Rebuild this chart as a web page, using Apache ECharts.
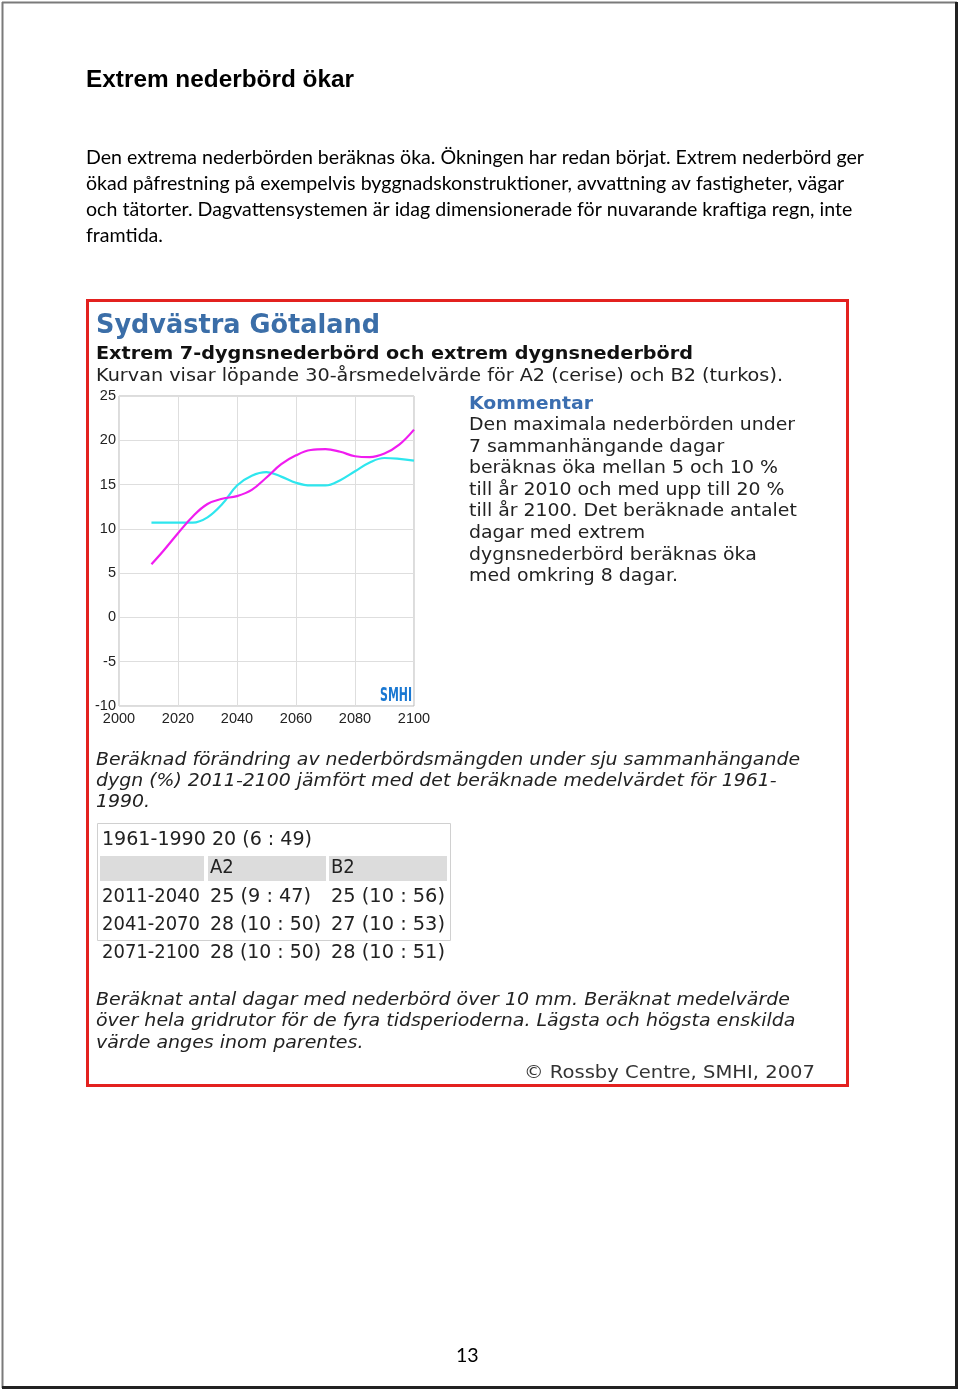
<!DOCTYPE html>
<html><head><meta charset="utf-8">
<script src="https://cdn.jsdelivr.net/npm/echarts@6/dist/echarts.min.js"></script>
<style>html,body{margin:0;padding:0;background:#fff}#c{width:960px;height:1390px}</style>
</head><body><div id="c"></div>
<script>
// ---- data ----
const years = [2011,2015,2020,2025,2030,2035,2040,2045,2050,2055,2060,2065,2070,2075,2080,2085,2090,2095,2100];
const a2Values = [6.0,7.5,9.5,11.4,12.8,13.4,13.7,14.4,15.8,17.3,18.3,18.9,19.0,18.7,18.2,18.1,18.5,19.5,21.2];
const b2Values = [10.7,10.7,10.7,10.7,11.3,12.8,14.9,16.0,16.4,15.9,15.2,14.9,14.9,15.5,16.5,17.5,18.0,17.9,17.7];
const xTicks = [2000,2020,2040,2060,2080,2100];
const yTicks = [-10,-5,0,5,10,15,20,25];

const pageTitle = 'Extrem nederbörd ökar';
const bodyLines = [
  'Den extrema nederbörden beräknas öka. Ökningen har redan börjat. Extrem nederbörd ger',
  'ökad påfrestning på exempelvis byggnadskonstruktioner, avvattning av fastigheter, vägar',
  'och tätorter. Dagvattensystemen är idag dimensionerade för nuvarande kraftiga regn, inte',
  'framtida.'
];
const chartTitle = 'Sydvästra Götaland';
const chartSubtitle = 'Extrem 7-dygnsnederbörd och extrem dygnsnederbörd';
const chartNote = 'Kurvan visar löpande 30-årsmedelvärde för A2 (cerise) och B2 (turkos).';
const commentHead = 'Kommentar';
const commentLines = [
  'Den maximala nederbörden under',
  '7 sammanhängande dagar',
  'beräknas öka mellan 5 och 10 %',
  'till år 2010 och med upp till 20 %',
  'till år 2100. Det beräknade antalet',
  'dagar med extrem',
  'dygnsnederbörd beräknas öka',
  'med omkring 8 dagar.'
];
const caption1 = [
  'Beräknad förändring av nederbördsmängden under sju sammanhängande',
  'dygn (%) 2011-2100 jämfört med det beräknade medelvärdet för 1961-',
  '1990.'
];
const baselineRow = '1961-1990 20 (6 : 49)';
const tableHeader = ['', 'A2', 'B2'];
const tablePeriods = ['2011-2040', '2041-2070', '2071-2100'];
const tableA2 = ['25 (9 : 47)', '28 (10 : 50)', '28 (10 : 50)'];
const tableB2 = ['25 (10 : 56)', '27 (10 : 53)', '28 (10 : 51)'];
const caption2 = [
  'Beräknat antal dagar med nederbörd över 10 mm. Beräknat medelvärde',
  'över hela gridrutor för de fyra tidsperioderna. Lägsta och högsta enskilda',
  'värde anges inom parentes.'
];
const copyright = '© Rossby Centre, SMHI, 2007';
const pageNumber = '13';

// ---- helpers ----
const mctx = document.createElement('canvas').getContext('2d');
function measure(str, f) {
  mctx.font = (f.style || 'normal') + ' ' + (f.weight || 'normal') + ' ' + f.size + 'px ' + f.family;
  return mctx.measureText(str).width;
}
function fitScale(str, f, w) { return w / measure(str, f); }
function txt(str, x, y, f, fill, sx) {
  return {
    type: 'text', x: x, y: y, scaleX: sx || 1, z: 100,
    style: {
      text: str, fill: fill || '#000',
      fontFamily: f.family, fontSize: f.size, fontWeight: f.weight || 'normal', fontStyle: f.style || 'normal',
      align: f.align || 'left', verticalAlign: 'middle',
      textAlign: f.align || 'left', textVerticalAlign: 'middle'
    }
  };
}

const G = [];
// page frame
G.push({type:'line', shape:{x1:2.5,y1:2,x2:2.5,y2:1388}, style:{stroke:'#7a7a7a', lineWidth:2}});
G.push({type:'line', shape:{x1:2,y1:2.5,x2:957,y2:2.5}, style:{stroke:'#7a7a7a', lineWidth:2}});
G.push({type:'line', shape:{x1:956.5,y1:2,x2:956.5,y2:1389}, style:{stroke:'#222', lineWidth:3}});
G.push({type:'line', shape:{x1:2,y1:1387.5,x2:958,y2:1387.5}, style:{stroke:'#222', lineWidth:3}});

// page heading and body
const fHead = {family:'"Liberation Sans", Arial', size:23.5, weight:'bold'};
G.push(txt(pageTitle, 86, 81, fHead, '#000', fitScale(pageTitle, fHead, 268)));
const fBody = {family:'Lato, "Open Sans"', size:20};
const sBody = fitScale(bodyLines[0], fBody, 778);
const bodyY = [158, 184, 210, 236];
bodyLines.forEach((l, i) => G.push(txt(l, 86, bodyY[i], fBody, '#000', sBody)));

// red frame
G.push({type:'rect', shape:{x:87.5, y:300.5, width:760, height:785}, style:{fill:'none', stroke:'#e3211f', lineWidth:3}});

// chart headings
const fTitle = {family:'"DejaVu Sans"', size:27, weight:'bold'};
G.push(txt(chartTitle, 96, 326, fTitle, '#3b6ea8', fitScale(chartTitle, fTitle, 284)));
const fSub = {family:'"DejaVu Sans"', size:18.5, weight:'bold'};
G.push(txt(chartSubtitle, 96, 354, fSub, '#111', fitScale(chartSubtitle, fSub, 597)));
const fNote = {family:'"DejaVu Sans"', size:18.5};
G.push(txt(chartNote, 96, 376, fNote, '#222', fitScale(chartNote, fNote, 687)));

// comment block
const fCH = {family:'"DejaVu Sans"', size:18, weight:'bold'};
G.push(txt(commentHead, 469, 404, fCH, '#3b6eb0', fitScale(commentHead, fCH, 124)));
const fC = {family:'"DejaVu Sans"', size:18};
const sC = fitScale(commentLines[0], fC, 326);
const cY = [425, 447, 468, 490, 511, 533, 555, 576];
commentLines.forEach((l, i) => G.push(txt(l, 469, cY[i], fC, '#222', sC)));

// SMHI logo
const fLogo = {family:'"DejaVu Sans Condensed", "DejaVu Sans"', size:19, weight:'bold'};
G.push(txt('SMHI', 380, 696, fLogo, '#1a78d2', fitScale('SMHI', fLogo, 32)));

// caption 1
const fIt = {family:'"DejaVu Sans"', size:18, style:'italic'};
const sIt1 = fitScale(caption1[0], fIt, 704);
[760, 781, 802].forEach((y, i) => G.push(txt(caption1[i], 96, y, fIt, '#222', sIt1)));

// table
G.push({type:'rect', shape:{x:97.5, y:823.5, width:353, height:117}, style:{fill:'none', stroke:'#d0d0d0', lineWidth:1}});
G.push({type:'rect', shape:{x:100, y:856, width:104, height:25}, style:{fill:'#dcdcdc'}});
G.push({type:'rect', shape:{x:208, y:856, width:118, height:25}, style:{fill:'#dcdcdc'}});
G.push({type:'rect', shape:{x:329, y:856, width:118, height:25}, style:{fill:'#dcdcdc'}});
const fT = {family:'"DejaVu Sans Condensed", "DejaVu Sans"', size:20};
const sT = fitScale(tablePeriods[0], fT, 98);
G.push(txt(baselineRow, 102, 840, fT, '#222', fitScale(baselineRow, fT, 210)));
G.push(txt(tableHeader[1], 210, 868, fT, '#222', sT));
G.push(txt(tableHeader[2], 331, 868, fT, '#222', sT));
const rowY = [897, 925, 953];
const a2W = [101, 111, 111];
tablePeriods.forEach((p, i) => {
  G.push(txt(p, 102, rowY[i], fT, '#222', sT));
  G.push(txt(tableA2[i], 210, rowY[i], fT, '#222', fitScale(tableA2[i], fT, a2W[i])));
  G.push(txt(tableB2[i], 331, rowY[i], fT, '#222', fitScale(tableB2[i], fT, 114)));
});

// caption 2
const sIt2 = fitScale(caption2[0], fIt, 694);
[1000, 1021, 1043].forEach((y, i) => G.push(txt(caption2[i], 96, y, fIt, '#222', sIt2)));

// copyright
const fCopy = {family:'"DejaVu Sans"', size:18};
G.push(txt(copyright, 524, 1073, fCopy, '#333', fitScale(copyright, fCopy, 291)));

// page number
G.push(txt(pageNumber, 456, 1356, fBody, '#000', sBody));

const chart = echarts.init(document.getElementById('c'), null, {renderer:'canvas'});
chart.setOption({
  animation: false,
  backgroundColor: '#fff',
  grid: {left:119, top:396, width:295, height:310, show:true, borderColor:'#b8b8b8', borderWidth:1, backgroundColor:'#fff'},
  xAxis: {
    type:'value', min:xTicks[0], max:xTicks[xTicks.length-1], interval:20,
    axisLine:{show:false}, axisTick:{show:false},
    splitLine:{show:true, lineStyle:{color:'#dedede', width:1}},
    axisLabel:{color:'#222', fontFamily:'"Liberation Sans", Arial', fontSize:14.5, margin:5,
               formatter: v => String(v)}
  },
  yAxis: {
    type:'value', min:yTicks[0], max:yTicks[yTicks.length-1], interval:5,
    axisLine:{show:false}, axisTick:{show:false},
    splitLine:{show:true, lineStyle:{color:'#dedede', width:1}},
    axisLabel:{color:'#222', fontFamily:'"Liberation Sans", Arial', fontSize:14.5, margin:3,
               formatter: v => String(v)}
  },
  series: [
    {name:'A2', type:'line', data: years.map((y, i) => [y, a2Values[i]]), smooth:0.4, showSymbol:false,
     lineStyle:{color:'#f01cf0', width:2.2}, z:3},
    {name:'B2', type:'line', data: years.map((y, i) => [y, b2Values[i]]), smooth:0.4, showSymbol:false,
     lineStyle:{color:'#2ee6ee', width:2.2}, z:2}
  ],
  graphic: {elements: G}
});
</script></body></html>
